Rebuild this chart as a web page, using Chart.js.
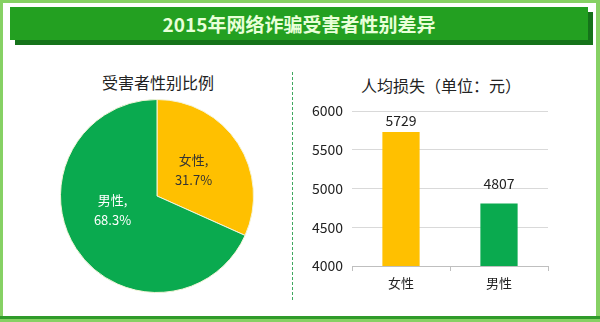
<!DOCTYPE html>
<html>
<head>
<meta charset="utf-8">
<script src="https://cdn.jsdelivr.net/npm/chart.js@4"></script>
<style>
  body { margin: 0; background: #fff; font-family: "Noto Sans CJK SC", sans-serif; }
  #frame { position: relative; width: 600px; height: 322px; overflow: hidden; background: #fff; }
  .edge { position: absolute; }
  #banner { position: absolute; left: 10px; top: 7px; width: 578px; height: 33px; background: #23a021;
            color: #e8ffd8; font-size: 19px; font-weight: bold; text-align: center; line-height: 33px;
            box-shadow: 5px 5px 0 #15731a; }
  .sub { position: absolute; font-size: 16px; color: #222; text-align: center; }
  #sep { position: absolute; left: 292px; top: 72px; height: 228px; border-left: 1.5px dashed #3fa860; }
  canvas { position: absolute; }
</style>
</head>
<body>
<div id="frame">
  <div class="edge" style="left:0;top:0;width:600px;height:3px;background:#86d164"></div>
  <div class="edge" style="left:0;top:0;width:3px;height:322px;background:#86d164"></div>
  <div class="edge" style="right:0;top:0;width:4px;height:322px;background:#86d164"></div>
  <div class="edge" style="left:0;top:316px;width:600px;height:3px;background:#2f9b2a"></div>
  <div class="edge" style="left:0;top:319px;width:600px;height:3px;background:#86d164"></div>
  <div id="banner">2015年网络诈骗受害者性别差异</div>
  <div class="sub" style="left:78px;top:70px;width:160px;">受害者性别比例</div>
  <div class="sub" style="left:350px;top:73px;width:182px;">人均损失（单位：元）</div>
  <div id="sep"></div>
  <canvas id="pieChart" style="left:60px;top:99px;" width="194" height="194"></canvas>
  <canvas id="barChart" style="left:300px;top:60px;" width="290" height="250"></canvas>
</div>
<script>
const genders = ['女性', '男性'];
const sharePct = [31.7, 68.3];
const lossYuan = [5729, 4807];
const colors = ['#FFC000', '#0AAA4F'];
const lossTicks = [4000, 4500, 5000, 5500, 6000];

const font = '"Noto Sans CJK SC", sans-serif';

// labels drawn inside each slice
const pieLabels = {
    id: 'pieLabels',
    afterDatasetsDraw(chart) {
        const ctx = chart.ctx;
        chart.getDatasetMeta(0).data.forEach((arc, i) => {
            const p = arc.tooltipPosition();
            const dy = i === 1 ? -12 : 0;
            ctx.save();
            ctx.font = '13px ' + font;
            ctx.fillStyle = i === 0 ? '#333' : '#fff';
            ctx.textAlign = 'center';
            ctx.textBaseline = 'middle';
            ctx.fillText(genders[i] + ',', p.x - 4, p.y - 10 + dy);
            ctx.fillText(sharePct[i].toFixed(1) + '%', p.x - 4, p.y + 10 + dy);
            ctx.restore();
        });
    }
};

new Chart(document.getElementById('pieChart'), {
    type: 'pie',
    data: {
        labels: genders,
        datasets: [{
            data: sharePct,
            backgroundColor: colors,
            borderColor: '#f4f4d8',
            borderWidth: 1
        }]
    },
    options: {
        responsive: false,
        animation: false,
        layout: { padding: 0 },
        plugins: { legend: { display: false }, tooltip: { enabled: false } }
    },
    plugins: [pieLabels]
});

// value on top of each bar
const barLabels = {
    id: 'barLabels',
    afterDatasetsDraw(chart) {
        const ctx = chart.ctx;
        chart.getDatasetMeta(0).data.forEach((bar, i) => {
            ctx.save();
            ctx.font = '14px ' + font;
            ctx.fillStyle = '#222';
            ctx.textAlign = 'center';
            ctx.textBaseline = 'bottom';
            ctx.fillText(lossYuan[i], bar.x, bar.y - (i === 0 ? 4 : 13));
            ctx.restore();
        });
    }
};

new Chart(document.getElementById('barChart'), {
    type: 'bar',
    data: {
        labels: genders,
        datasets: [{
            data: lossYuan,
            backgroundColor: colors,
            barPercentage: 0.76,
            categoryPercentage: 0.5
        }]
    },
    options: {
        responsive: false,
        animation: false,
        layout: { padding: { left: 0, right: 42, top: 51, bottom: 12 } },
        plugins: { legend: { display: false }, tooltip: { enabled: false } },
        scales: {
            x: {
                grid: { drawOnChartArea: false, drawTicks: true, tickLength: 5, color: '#bfbfbf' },
                border: { color: '#bfbfbf' },
                ticks: { color: '#222', font: { family: font, size: 13 }, padding: 4 },
                afterFit(scale) { scale.height = 32; }
            },
            y: {
                min: 4000,
                max: 6000,
                afterBuildTicks(scale) { scale.ticks = lossTicks.map(v => ({ value: v })); },
                grid: { color: '#d9d9d9', tickLength: 0 },
                border: { display: false },
                ticks: {
                    color: '#222',
                    font: { family: font, size: 14 },
                    padding: 9,
                    callback: v => String(v)
                },
                afterFit(scale) { scale.width = 52; }
            }
        }
    },
    plugins: [barLabels]
});
</script>
</body>
</html>
